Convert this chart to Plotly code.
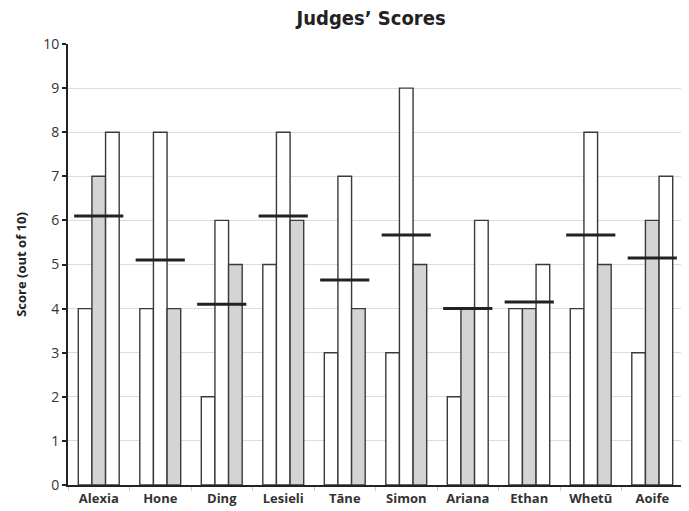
import numpy as np
import plotly.graph_objects as go

names = ["Alexia", "Hone", "Ding", "Lesieli", "Tāne", "Simon", "Ariana", "Ethan", "Whetū", "Aoife"]
judge1 = [4, 4, 2, 5, 3, 3, 2, 4, 4, 3]
judge2 = [7, 8, 6, 8, 7, 9, 4, 4, 8, 6]
judge3 = [8, 4, 5, 6, 4, 5, 6, 5, 5, 7]
mean_marks = [6.1, 5.1, 4.1, 6.1, 4.65, 5.67, 4.0, 4.15, 5.67, 5.15]

scores = np.array([judge1, judge2, judge3])
median_idx = [int(np.argsort(scores[:, i], kind="stable")[1]) for i in range(len(names))]

x = list(range(len(names)))
fig = go.Figure()
for j, vals in enumerate([judge1, judge2, judge3]):
    colors = ["#d3d4d6" if median_idx[i] == j else "#ffffff" for i in range(len(names))]
    fig.add_trace(go.Bar(
        x=x, y=vals, marker=dict(color=colors, line=dict(color="#3a3a3a", width=1.4)),
        showlegend=False, hoverinfo="y"))

lx, ly = [], []
for i, m in enumerate(mean_marks):
    lx += [i - 0.4, i + 0.4, None]
    ly += [m, m, None]
fig.add_trace(go.Scatter(x=lx, y=ly, mode="lines", line=dict(color="#222222", width=3),
                         showlegend=False, hoverinfo="skip"))

fig.update_layout(
    width=689, height=511,
    margin=dict(l=58, r=14, t=36, b=32),
    plot_bgcolor="white", paper_bgcolor="white",
    barmode="group", bargap=0.335, bargroupgap=0,
    title=dict(text="<b>Judges’ Scores</b>", x=0.527, xanchor="center", y=0.98, yanchor="middle",
               font=dict(family="DejaVu Sans Condensed", size=20, color="#222222")),
    font=dict(family="Open Sans", color="#333333", size=13),
)
fig.update_xaxes(
    range=[-0.5, len(names) - 0.5], tickvals=x, ticktext=["<b>%s</b>" % n for n in names],
    showgrid=False, zeroline=False, showline=True, linecolor="#222222", linewidth=2,
    ticks="", tickfont=dict(size=13, color="#333333"),
    minor=dict(tick0=0.5, dtick=1, ticks="outside", ticklen=4, tickcolor="#cccccc", tickwidth=1, showgrid=False),
)
fig.update_yaxes(
    range=[0, 10], dtick=1, showgrid=True, gridcolor="#dcdcdc", gridwidth=1.3,
    zeroline=False, showline=True, linecolor="#222222", linewidth=2,
    ticks="outside", ticklen=4, tickcolor="#222222", tickwidth=1.5,
    tickfont=dict(size=14, color="#333333"),
    title=dict(text="<b>Score (out of 10)</b>", font=dict(size=13, color="#222222"), standoff=14),
)
fig.write_html("out.html")
